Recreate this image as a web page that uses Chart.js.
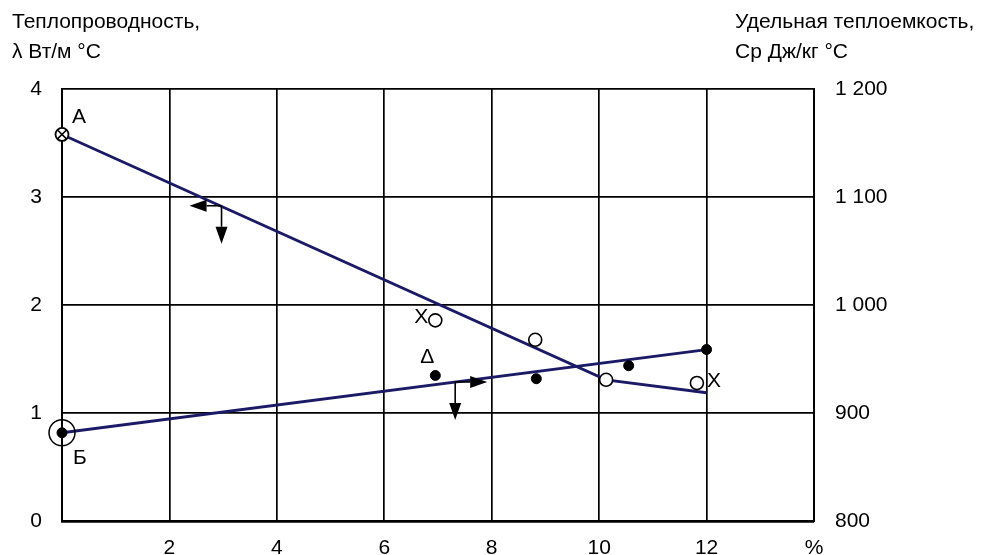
<!DOCTYPE html>
<html>
<head>
<meta charset="utf-8">
<script src="https://cdn.jsdelivr.net/npm/chart.js@4/dist/chart.umd.min.js"></script>
<style>
  html, body { margin: 0; padding: 0; background: #fff; }
  canvas { display: block; }
</style>
</head>
<body>
<canvas id="chart" width="983" height="555"></canvas>
<script>
// Axis ticks
const xTicks = [0, 2, 4, 6, 8, 10, 12, 14];
const xTickLabels = ['', '2', '4', '6', '8', '10', '12', '%'];
const lambdaTicks = [0, 1, 2, 3, 4];
const cpTicks = [800, 900, 1000, 1100, 1200];
const cpTickLabels = ['800', '900', '1 000', '1 100', '1 200'];

// Thermal conductivity λ, W/(m·°C): trend line and measured points
const lambdaLineX = [0, 10.13, 12];
const lambdaLineY = [3.58, 1.31, 1.19];
const lambdaPointX = [6.95, 8.81, 10.13, 11.82];
const lambdaPointY = [1.86, 1.68, 1.31, 1.28];
const lambdaStartX = [0];
const lambdaStartY = [3.58];

// Specific heat Cp, J/(kg·°C): trend line and measured points
const cpLineX = [0, 12];
const cpLineY = [882, 959];
const cpPointX = [0, 6.95, 8.83, 10.55, 12];
const cpPointY = [882, 935, 932, 944, 959];
const cpStartX = [0];
const cpStartY = [882];

// Direction arrows anchored on the two lines
const lambdaArrowX = [2.97];
const lambdaArrowY = [2.92];
const cpArrowX = [7.32];
const cpArrowY = [929];

const FONT = "'Liberation Sans', Arial, Helvetica, sans-serif";
const FONT_SIZE = 21;
const NAVY = '#1a1a66';

const pts = (xs, ys) => xs.map((x, i) => ({ x, y: ys[i] }));

// Titles, point letters and arrows drawn on top of the chart
const overlay = {
  id: 'overlay',
  afterDatasetsDraw(chart) {
    const { ctx, scales } = chart;
    const sx = scales.x, sy = scales.y, sc = scales.y2;
    ctx.save();
    ctx.fillStyle = '#000';
    ctx.font = FONT_SIZE + 'px ' + FONT;
    ctx.textBaseline = 'alphabetic';
    ctx.textAlign = 'left';
    ctx.fillText('Теплопроводность,', 12, 28);
    ctx.fillText('λ Вт/м °С', 12, 58);
    ctx.fillText('Удельная теплоемкость,', 735, 28);
    ctx.fillText('Ср Дж/кг °С', 735, 58);

    // letters next to points
    ctx.textAlign = 'center';
    ctx.textBaseline = 'middle';
    const notes = [
      { t: 'A', px: sx.getPixelForValue(lambdaStartX[0]), py: sy.getPixelForValue(lambdaStartY[0]), dx: 17, dy: -17 },
      { t: 'Б', px: sx.getPixelForValue(cpStartX[0]), py: sc.getPixelForValue(cpStartY[0]), dx: 18, dy: 25 },
      { t: 'X', px: sx.getPixelForValue(lambdaPointX[0]), py: sy.getPixelForValue(lambdaPointY[0]), dx: -14, dy: -3 },
      { t: 'Δ', px: sx.getPixelForValue(cpPointX[1]), py: sc.getPixelForValue(cpPointY[1]), dx: -8, dy: -18 },
      { t: 'X', px: sx.getPixelForValue(lambdaPointX[3]), py: sy.getPixelForValue(lambdaPointY[3]), dx: 17, dy: -2 }
    ];
    notes.forEach(n => ctx.fillText(n.t, n.px + n.dx, n.py + n.dy));

    // arrows
    const arrow = (x0, y0, x1, y1) => {
      const ang = Math.atan2(y1 - y0, x1 - x0);
      const L = 17, W = 6;
      ctx.beginPath();
      ctx.moveTo(x0, y0);
      ctx.lineTo(x1 - L * Math.cos(ang), y1 - L * Math.sin(ang));
      ctx.stroke();
      ctx.beginPath();
      ctx.moveTo(x1, y1);
      ctx.lineTo(x1 - L * Math.cos(ang) + W * Math.sin(ang), y1 - L * Math.sin(ang) - W * Math.cos(ang));
      ctx.lineTo(x1 - L * Math.cos(ang) - W * Math.sin(ang), y1 - L * Math.sin(ang) + W * Math.cos(ang));
      ctx.closePath();
      ctx.fill();
    };
    ctx.strokeStyle = '#000';
    ctx.lineWidth = 1.6;
    const a1x = sx.getPixelForValue(lambdaArrowX[0]), a1y = sy.getPixelForValue(lambdaArrowY[0]);
    arrow(a1x, a1y, a1x - 32, a1y);
    arrow(a1x, a1y, a1x, a1y + 38);
    const a2x = sx.getPixelForValue(cpArrowX[0]), a2y = sc.getPixelForValue(cpArrowY[0]);
    arrow(a2x, a2y, a2x + 32, a2y);
    arrow(a2x, a2y, a2x, a2y + 38);
    ctx.restore();
  }
};

new Chart(document.getElementById('chart'), {
  type: 'scatter',
  data: {
    datasets: [
      { data: pts(lambdaPointX, lambdaPointY), yAxisID: 'y', pointStyle: 'circle', pointRadius: 6.5,
        backgroundColor: '#fff', borderColor: '#000', borderWidth: 1.6, clip: false, order: 1 },
      { data: pts(cpPointX, cpPointY), yAxisID: 'y2', pointStyle: 'circle', pointRadius: 5,
        backgroundColor: '#000', borderColor: '#000', borderWidth: 1, clip: false, order: 1 },
      { data: pts(lambdaStartX, lambdaStartY), yAxisID: 'y', pointStyle: 'crossRot', pointRadius: 6,
        borderColor: '#000', borderWidth: 1.5, clip: false, order: 0 },
      { data: pts(lambdaStartX, lambdaStartY), yAxisID: 'y', pointStyle: 'circle', pointRadius: 6.5,
        backgroundColor: '#fff', borderColor: '#000', borderWidth: 1.8, clip: false, order: 1 },
      { data: pts(cpStartX, cpStartY), yAxisID: 'y2', pointStyle: 'circle', pointRadius: 13,
        backgroundColor: 'rgba(0,0,0,0)', borderColor: '#000', borderWidth: 1.5, clip: false, order: 1 },
      { data: pts(lambdaLineX, lambdaLineY), yAxisID: 'y', showLine: true, pointRadius: 0,
        borderColor: NAVY, borderWidth: 2.8, tension: 0, order: 2 },
      { data: pts(cpLineX, cpLineY), yAxisID: 'y2', showLine: true, pointRadius: 0,
        borderColor: NAVY, borderWidth: 2.8, tension: 0, order: 2 }
    ]
  },
  options: {
    responsive: false,
    devicePixelRatio: 1,
    animation: false,
    layout: { padding: { top: 89, left: 0, right: 0, bottom: 0 } },
    plugins: { legend: { display: false }, tooltip: { enabled: false } },
    scales: {
      x: {
        type: 'linear', min: 0, max: 14,
        afterBuildTicks: s => { s.ticks = xTicks.map(v => ({ value: v })); },
        afterFit: s => { s.height = 33; },
        ticks: { callback: v => xTickLabels[xTicks.indexOf(v)], color: '#000', font: { family: FONT, size: FONT_SIZE },
                 padding: 14, maxRotation: 0, autoSkip: false },
        grid: { color: '#000', lineWidth: 1.7, drawTicks: false },
        border: { color: '#000', width: 2 }
      },
      y: {
        type: 'linear', position: 'left', min: 0, max: 4,
        afterBuildTicks: s => { s.ticks = lambdaTicks.map(v => ({ value: v })); },
        afterFit: s => { s.width = 62; },
        ticks: { color: '#000', font: { family: FONT, size: FONT_SIZE }, padding: 20 },
        grid: { color: '#000', lineWidth: 1.7, drawTicks: false },
        border: { color: '#000', width: 2 }
      },
      y2: {
        type: 'linear', position: 'right', min: 800, max: 1200,
        afterBuildTicks: s => { s.ticks = cpTicks.map(v => ({ value: v })); },
        afterFit: s => { s.width = 169; },
        ticks: { callback: v => cpTickLabels[cpTicks.indexOf(v)], color: '#000', font: { family: FONT, size: FONT_SIZE }, padding: 21 },
        grid: { display: false, drawTicks: false },
        border: { color: '#000', width: 2 }
      }
    }
  },
  plugins: [overlay]
});
</script>
</body>
</html>
